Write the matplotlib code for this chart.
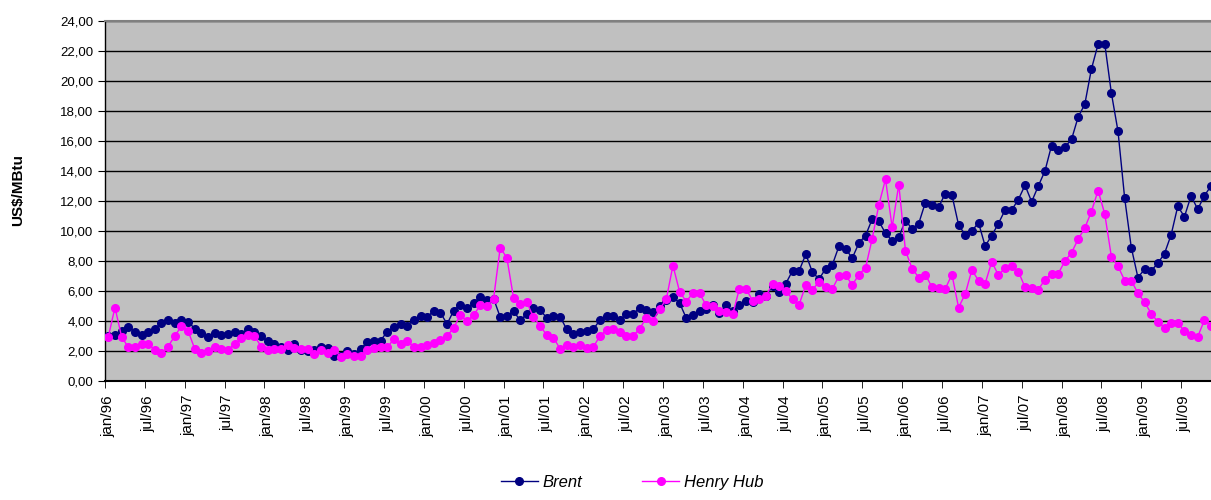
import matplotlib
matplotlib.use("Agg")
import matplotlib.pyplot as plt
import numpy as np

plt.rcParams['font.family'] = ['Liberation Sans', 'DejaVu Sans']

# monthly values, jan/96 .. nov/09 (US$/MBtu)
brent = [3.0, 3.1, 3.35, 3.6, 3.3, 3.1, 3.3, 3.5, 3.85, 4.05, 3.85, 4.05,
         3.95, 3.5, 3.2, 2.95, 3.2, 3.05, 3.15, 3.3, 3.15, 3.45, 3.3, 3.0,
         2.65, 2.5, 2.3, 2.1, 2.5, 2.05, 2.0, 2.05, 2.3, 2.2, 1.65, 1.7,
         2.0, 1.8, 2.15, 2.6, 2.65, 2.7, 3.3, 3.6, 3.8, 3.7, 4.1, 4.35,
         4.3, 4.65, 4.55, 3.8, 4.7, 5.1, 4.85, 5.2, 5.6, 5.4, 5.5, 4.25,
         4.35, 4.65, 4.05, 4.45, 4.85, 4.75, 4.2, 4.35, 4.3, 3.45, 3.15, 3.3,
         3.35, 3.45, 4.05, 4.35, 4.35, 4.05, 4.5, 4.5, 4.85, 4.75, 4.6, 5.0,
         5.4, 5.6, 5.2, 4.2, 4.4, 4.65, 4.8, 5.1, 4.55, 5.05, 4.65, 5.05,
         5.35, 5.25, 5.8, 5.65, 6.35, 5.95, 6.5, 7.35, 7.35, 8.45, 7.25, 6.8,
         7.5, 7.75, 9.0, 8.8, 8.2, 9.2, 9.7, 10.8, 10.65, 9.85, 9.35, 9.6,
         10.7, 10.15, 10.5, 11.9, 11.75, 11.6, 12.5, 12.4, 10.4, 9.75, 10.0, 10.55,
         9.0, 9.7, 10.5, 11.4, 11.4, 12.1, 13.05, 11.95, 13.0, 14.0, 15.7, 15.4,
         15.6, 16.1, 17.6, 18.45, 20.8, 22.45, 22.5, 19.2, 16.65, 12.2, 8.9, 6.9,
         7.45, 7.35, 7.85, 8.5, 9.75, 11.65, 10.95, 12.35, 11.45, 12.35, 13.0]

henry_hub = [2.95, 4.9, 2.95, 2.25, 2.25, 2.45, 2.5, 2.05, 1.85, 2.3, 3.0, 3.65,
             3.35, 2.15, 1.85, 2.0, 2.25, 2.15, 2.1, 2.45, 2.85, 3.05, 3.0, 2.3,
             2.05, 2.15, 2.15, 2.4, 2.2, 2.15, 2.15, 1.8, 2.05, 1.85, 2.1, 1.6,
             1.8, 1.7, 1.7, 2.1, 2.2, 2.25, 2.25, 2.8, 2.45, 2.7, 2.25, 2.25,
             2.4, 2.55, 2.75, 3.0, 3.55, 4.4, 4.0, 4.4, 5.05, 5.0, 5.5, 8.9,
             8.2, 5.55, 5.15, 5.25, 4.25, 3.7, 3.05, 2.9, 2.15, 2.4, 2.25, 2.4,
             2.2, 2.25, 3.0, 3.4, 3.5, 3.3, 3.0, 3.0, 3.5, 4.2, 4.0, 4.8,
             5.45, 7.7, 5.95, 5.3, 5.85, 5.85, 5.05, 5.0, 4.65, 4.6, 4.45, 6.15,
             6.15, 5.35, 5.45, 5.7, 6.45, 6.35, 6.0, 5.45, 5.1, 6.4, 6.1, 6.6,
             6.25, 6.15, 7.0, 7.05, 6.4, 7.1, 7.55, 9.5, 11.75, 13.45, 10.25, 13.1,
             8.7, 7.5, 6.9, 7.1, 6.25, 6.2, 6.15, 7.1, 4.9, 5.8, 7.4, 6.7,
             6.5, 7.95, 7.05, 7.55, 7.65, 7.3, 6.25, 6.2, 6.1, 6.75, 7.15, 7.15,
             8.0, 8.55, 9.45, 10.2, 11.3, 12.7, 11.15, 8.3, 7.65, 6.7, 6.7, 5.85,
             5.25, 4.5, 3.95, 3.55, 3.9, 3.85, 3.35, 3.1, 2.95, 4.05, 3.65]

years = list(range(96, 100)) + list(range(0, 10))
tick_labels = []
for y in years:
    tick_labels.append('jan/%02d' % y)
    tick_labels.append('jul/%02d' % y)

x = np.arange(len(brent))

fig = plt.figure(figsize=(12.11, 5.0), dpi=100)
ax = fig.add_axes([105 / 1211, 119 / 500, 1106 / 1211, 360 / 500])
ax.set_facecolor('#C0C0C0')

ax.plot(x, brent, color='#000080', lw=1.0, marker='o', ms=5.5,
        mec='#000080', mfc='#000080', label='Brent', zorder=3)
ax.plot(x, henry_hub, color='#FF00FF', lw=1.0, marker='o', ms=5.5,
        mec='#FF00FF', mfc='#FF00FF', label='Henry Hub', zorder=4)

ax.set_xlim(-0.5, 166.0)
ax.set_ylim(0, 24)
yt = np.arange(0, 25, 2)
ax.set_yticks(yt)
ax.set_yticklabels([('%.2f' % v).replace('.', ',') for v in yt])
ax.yaxis.grid(True, color='black', lw=1.0)
ax.set_axisbelow(True)

# labels sit on category centres, tick marks on category boundaries
pos = np.arange(len(tick_labels)) * 6
ax.set_xticks(pos)
ax.set_xticklabels(tick_labels, rotation=90)
ax.set_xticks(pos - 0.5, minor=True)
ax.tick_params(axis='x', which='major', length=0, pad=10, labelsize=11)
ax.tick_params(axis='x', which='minor', length=5, direction='out', color='black')
ax.tick_params(axis='y', length=5, direction='out', labelsize=9.5)

ax.spines['right'].set_visible(False)
ax.spines['top'].set_color('#808080')
ax.spines['top'].set_linewidth(1.5)
ax.spines['left'].set_linewidth(1.0)
ax.spines['bottom'].set_linewidth(1.5)

ax.set_ylabel('US$/MBtu', fontsize=11, fontweight='bold', labelpad=22)
ax.yaxis.set_label_coords(-80 / 1106, 0.53)

fig.legend(loc='lower center', bbox_to_anchor=(0.522, -0.01), ncol=2,
           frameon=False, prop={'style': 'italic', 'size': 12},
           columnspacing=3.6, handlelength=2.2, handletextpad=0.3)

fig.savefig('out.png', dpi=100)
